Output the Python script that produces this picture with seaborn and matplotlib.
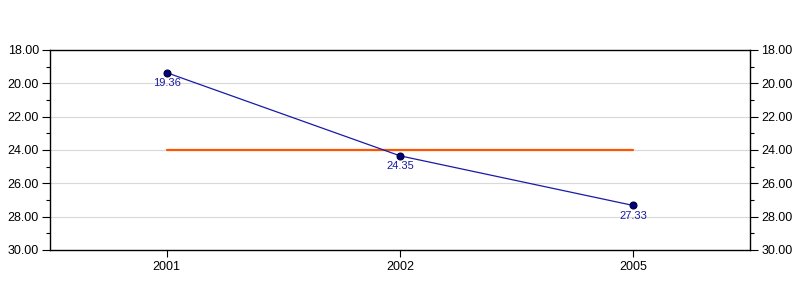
import matplotlib
matplotlib.use("Agg")
import matplotlib.pyplot as plt
import seaborn as sns
import pandas as pd
from matplotlib.ticker import MultipleLocator, FormatStrFormatter

categories = ["2001", "2002", "2005"]
values = [19.36, 24.35, 27.33]
target = [24.0, 24.0, 24.0]
value_labels = ["19.36", "24.35", "27.33"]

sns.set_theme(style="white")
plt.rcParams["font.family"] = ["Liberation Sans", "DejaVu Sans"]

df = pd.DataFrame({"year": categories, "value": values, "target": target})
df["pos"] = range(len(df))

fig = plt.figure(figsize=(8, 3), dpi=100)
ax = fig.add_axes([0.0625, 0.1667, 0.875, 0.6667])

sns.lineplot(data=df, x="pos", y="target", ax=ax, color="#ff5500", linewidth=1.6, zorder=3)
sns.lineplot(data=df, x="pos", y="value", ax=ax, color="#1a1aa8", linewidth=0.9,
             marker="o", markersize=5, markerfacecolor="#000080",
             markeredgecolor="#000033", markeredgewidth=0.8, zorder=4)

for p, v, t in zip(df["pos"], values, value_labels):
    ax.annotate(t, (p, v), xytext=(0, -4), textcoords="offset points",
                ha="center", va="top", fontsize=8, color="#1a1aa0")

ax.set_xlim(-0.5, 2.5)
ax.set_ylim(30, 18)
ax.set_xticks(range(len(categories)))
ax.set_xticklabels(categories)
ax.yaxis.set_major_locator(MultipleLocator(2))
ax.yaxis.set_minor_locator(MultipleLocator(1))
ax.yaxis.set_major_formatter(FormatStrFormatter("%.2f"))
ax.set_xlabel("")
ax.set_ylabel("")

for y in [20, 22, 24, 26, 28]:
    ax.axhline(y, color="#d9d9d9", linewidth=0.8, zorder=0)

for s in ax.spines.values():
    s.set_color("black")
    s.set_linewidth(1.0)

ax.tick_params(axis="y", which="major", direction="out", length=6, width=0.8,
               colors="black", labelsize=9, left=True, right=True,
               labelleft=True, labelright=True, pad=2)
ax.tick_params(axis="y", which="minor", direction="out", length=3, width=0.8,
               colors="black", left=True, right=True)
ax.tick_params(axis="x", which="major", direction="out", length=5, width=0.8,
               colors="black", labelsize=9, bottom=True, pad=3)

fig.savefig("out.png", dpi=100, facecolor="white")
